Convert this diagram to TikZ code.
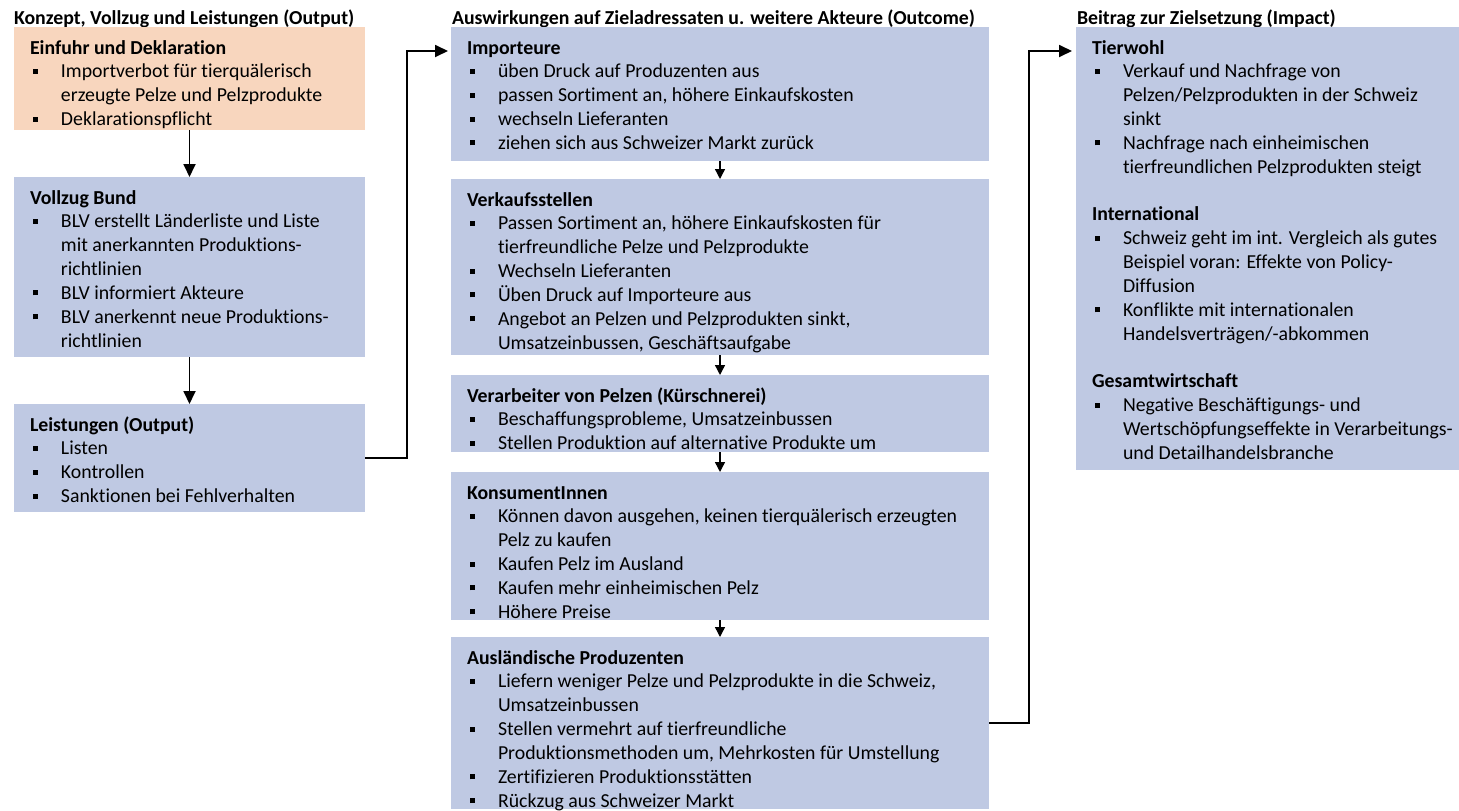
\documentclass[tikz,border=0pt]{standalone}
\usepackage{fontspec}
\setmainfont{Carlito}[Ligatures={NoCommon}]
\usetikzlibrary{arrows.meta}

\definecolor{boxblue}{RGB}{191,201,227}
\definecolor{boxpeach}{RGB}{248,214,190}

% list helpers: square bullet item, continuation line
\newcommand{\bitem}[1]{\makebox[31pt][l]{\hspace{3pt}\rule[4pt]{5pt}{5pt}}#1}
\newcommand{\cont}[1]{\hspace*{31pt}#1}
\newcommand{\paneltxt}[2]{\parbox[t]{#1}{\fontsize{19.8}{23.85}\selectfont #2}}

\tikzset{
  panel/.style={rectangle, inner sep=0pt, outer sep=0pt, anchor=north west, draw=none},
  bluepanel/.style={panel, fill=boxblue},
  peachpanel/.style={panel, fill=boxpeach},
  paneltext/.style={anchor=base west, inner sep=0pt, outer sep=0pt},
  coltitle/.style={anchor=base west, inner sep=0pt, outer sep=0pt,
    font=\fontsize{19.8}{23.85}\selectfont\bfseries},
  flow/.style={line width=1.8pt, -{Triangle[length=13pt,width=12pt]}},
  stepdown/.style={line width=1.4pt, -{Triangle[length=10pt,width=10pt]}},
}

\begin{document}
\begin{tikzpicture}[x=1pt, y=-1pt]
\useasboundingbox[fill=white] (0,0) rectangle (1459,811);

% column titles
\node[coltitle] (t1) at (14,24.5) {Konzept, Vollzug und Leistungen (Output)};
\node[coltitle] (t2) at (452,24.5) {Auswirkungen auf Zieladressaten u. weitere Akteure (Outcome)};
\node[coltitle] (t3) at (1077,24.5) {Beitrag zur Zielsetzung (Impact)};

% ---- column 1 ----
\node[peachpanel, minimum width=351pt, minimum height=103pt] (einfuhr) at (14,27) {};
\node[bluepanel, minimum width=351pt, minimum height=180pt] (vollzug) at (14,177) {};
\node[bluepanel, minimum width=351pt, minimum height=108pt] (leist) at (14,404) {};

\node[paneltext] (einfuhrtxt) at (30,54) {\paneltxt{330pt}{%
  \textbf{Einfuhr und Deklaration}\\
  \bitem{Importverbot für tierquälerisch}\\
  \cont{erzeugte Pelze und Pelzprodukte}\\
  \bitem{Deklarationspflicht}}};

\node[paneltext] (vollzugtxt) at (30,204) {\paneltxt{330pt}{%
  \textbf{Vollzug Bund}\\
  \bitem{BLV erstellt Länderliste und Liste}\\
  \cont{mit anerkannten Produktions-}\\
  \cont{richtlinien}\\
  \bitem{BLV informiert Akteure}\\
  \bitem{BLV anerkennt neue Produktions-}\\
  \cont{richtlinien}}};

\node[paneltext] (leisttxt) at (30,431) {\paneltxt{330pt}{%
  \textbf{Leistungen (Output)}\\
  \bitem{Listen}\\
  \bitem{Kontrollen}\\
  \bitem{Sanktionen bei Fehlverhalten}}};

% ---- column 2 ----
\node[bluepanel, minimum width=538pt, minimum height=134pt] (import) at (451,27) {};
\node[bluepanel, minimum width=538pt, minimum height=176pt] (verkauf) at (451,179) {};
\node[bluepanel, minimum width=538pt, minimum height=77pt] (verarb) at (451,375) {};
\node[bluepanel, minimum width=538pt, minimum height=148pt] (konsum) at (451,472) {};
\node[bluepanel, minimum width=538pt, minimum height=172pt] (ausl) at (451,637) {};

\node[paneltext] (importtxt) at (467,54) {\paneltxt{515pt}{%
  \textbf{Importeure}\\
  \bitem{üben Druck auf Produzenten aus}\\
  \bitem{passen Sortiment an, höhere Einkaufskosten}\\
  \bitem{wechseln Lieferanten}\\
  \bitem{ziehen sich aus Schweizer Markt zurück}}};

\node[paneltext] (verkauftxt) at (467,206) {\paneltxt{515pt}{%
  \textbf{Verkaufsstellen}\\
  \bitem{Passen Sortiment an, höhere Einkaufskosten für}\\
  \cont{tierfreundliche Pelze und Pelzprodukte}\\
  \bitem{Wechseln Lieferanten}\\
  \bitem{Üben Druck auf Importeure aus}\\
  \bitem{Angebot an Pelzen und Pelzprodukten sinkt,}\\
  \cont{Umsatzeinbussen, Geschäftsaufgabe}}};

\node[paneltext] (verarbtxt) at (467,402) {\paneltxt{515pt}{%
  \textbf{Verarbeiter von Pelzen (Kürschnerei)}\\
  \bitem{Beschaffungsprobleme, Umsatzeinbussen}\\
  \bitem{Stellen Produktion auf alternative Produkte um}}};

\node[paneltext] (konsumtxt) at (467,499) {\paneltxt{515pt}{%
  \textbf{KonsumentInnen}\\
  \bitem{Können davon ausgehen, keinen tierquälerisch erzeugten}\\
  \cont{Pelz zu kaufen}\\
  \bitem{Kaufen Pelz im Ausland}\\
  \bitem{Kaufen mehr einheimischen Pelz}\\
  \bitem{Höhere Preise}}};

\node[paneltext] (ausltxt) at (467,664) {\paneltxt{515pt}{%
  \textbf{Ausländische Produzenten}\\
  \bitem{Liefern weniger Pelze und Pelzprodukte in die Schweiz,}\\
  \cont{Umsatzeinbussen}\\
  \bitem{Stellen vermehrt auf tierfreundliche}\\
  \cont{Produktionsmethoden um, Mehrkosten für Umstellung}\\
  \bitem{Zertifizieren Produktionsstätten}\\
  \bitem{Rückzug aus Schweizer Markt}}};

% ---- column 3 ----
\node[bluepanel, minimum width=383pt, minimum height=443pt] (impact) at (1076,27) {};

\node[paneltext] (impacttxt) at (1092,54) {\paneltxt{366pt}{%
  \textbf{Tierwohl}\\
  \bitem{Verkauf und Nachfrage von}\\
  \cont{Pelzen/Pelzprodukten in der Schweiz}\\
  \cont{sinkt}\\
  \bitem{Nachfrage nach einheimischen}\\
  \cont{tierfreundlichen Pelzprodukten steigt}\\
  \mbox{}\\
  \textbf{International}\\
  \bitem{Schweiz geht im int. Vergleich als gutes}\\
  \cont{Beispiel voran: Effekte von Policy-}\\
  \cont{Diffusion}\\
  \bitem{Konflikte mit internationalen}\\
  \cont{Handelsverträgen/-abkommen}\\
  \mbox{}\\
  \textbf{Gesamtwirtschaft}\\
  \bitem{Negative Beschäftigungs- und}\\
  \cont{Wertschöpfungseffekte in Verarbeitungs-}\\
  \cont{und Detailhandelsbranche}}};

% ---- connectors ----
\draw[flow] (einfuhr.south) -- (vollzug.north);
\draw[flow] (vollzug.south) -- (leist.north);

\draw[stepdown] (import.south) -- (verkauf.north);
\draw[stepdown] (verkauf.south) -- (verarb.north);
\draw[stepdown] (verarb.south) -- (konsum.north);
\draw[stepdown] (konsum.south) -- (ausl.north);

\draw[flow, shorten >=3pt] (leist.east) -- ++(42,0) |- ([yshift=-24pt]import.north west);
\draw[flow, shorten >=4pt] (ausl.east) -- ++(40,0) |- ([yshift=-24pt]impact.north west);
\end{tikzpicture}
\end{document}
